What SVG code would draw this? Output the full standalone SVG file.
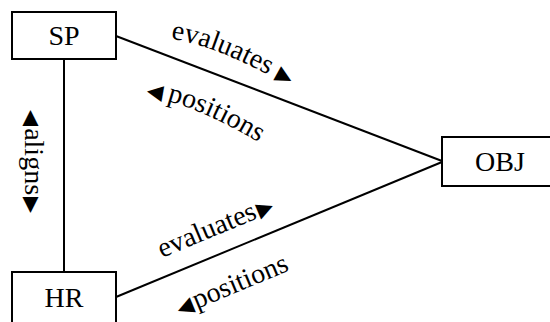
<svg xmlns="http://www.w3.org/2000/svg" width="550" height="322" viewBox="0 0 550 322">
  <style>
    .box { fill: #fff; stroke: #000; stroke-width: 2; }
    .edge { fill: none; stroke: #000; stroke-width: 2; }
    .name { font-family: "Liberation Serif", "Times New Roman", serif; font-size: 28px; text-anchor: middle; fill: #000; }
    .lbl { font-family: "Liberation Serif", "Times New Roman", serif; font-size: 28px; fill: #000; }
    .tri { font-family: "DejaVu Sans", sans-serif; font-size: 21px; }
  </style>
  <defs>
    <path id="p-sp-eval" d="M 171 39 Q 220 45 306 96"/>
    <path id="p-sp-pos" d="M 146 97 Q 197 103 276 153"/>
  </defs>
  <rect width="550" height="322" fill="#fff"/>

  <g id="connectors">
    <line class="edge" x1="64" y1="59" x2="64" y2="272"/>
    <line class="edge" x1="116" y1="36" x2="442" y2="161"/>
    <line class="edge" x1="116" y1="297" x2="442" y2="162"/>
    <!-- labels on SP–OBJ -->
    <text class="lbl"><textPath href="#p-sp-eval">evaluates<tspan class="tri" dx="7">▶</tspan></textPath></text>
    <text class="lbl"><textPath href="#p-sp-pos"><tspan class="tri">◀</tspan><tspan dx="5">positions</tspan></textPath></text>
    <!-- labels on HR–OBJ -->
    <text class="lbl" transform="translate(162,258) rotate(-22.6)">evaluates<tspan class="tri" dx="2">▶</tspan></text>
    <text class="lbl" transform="translate(180,316) rotate(-22.6)"><tspan class="tri">◀</tspan><tspan dx="2">positions</tspan></text>
    <!-- label on SP–HR -->
    <text class="lbl" transform="translate(25,110) rotate(90)"><tspan class="tri">◀</tspan><tspan dx="2">aligns</tspan><tspan class="tri" dx="2">▶</tspan></text>
  </g>

  <g id="SP">
    <rect class="box" x="12" y="12" width="104" height="47"/>
    <text class="name" x="64" y="45">SP</text>
  </g>
  <g id="HR">
    <rect class="box" x="12" y="272" width="104" height="70"/>
    <text class="name" x="64" y="307">HR</text>
  </g>
  <g id="OBJ">
    <rect class="box" x="442" y="137" width="130" height="49"/>
    <text class="name" x="500" y="171">OBJ</text>
  </g>
</svg>
